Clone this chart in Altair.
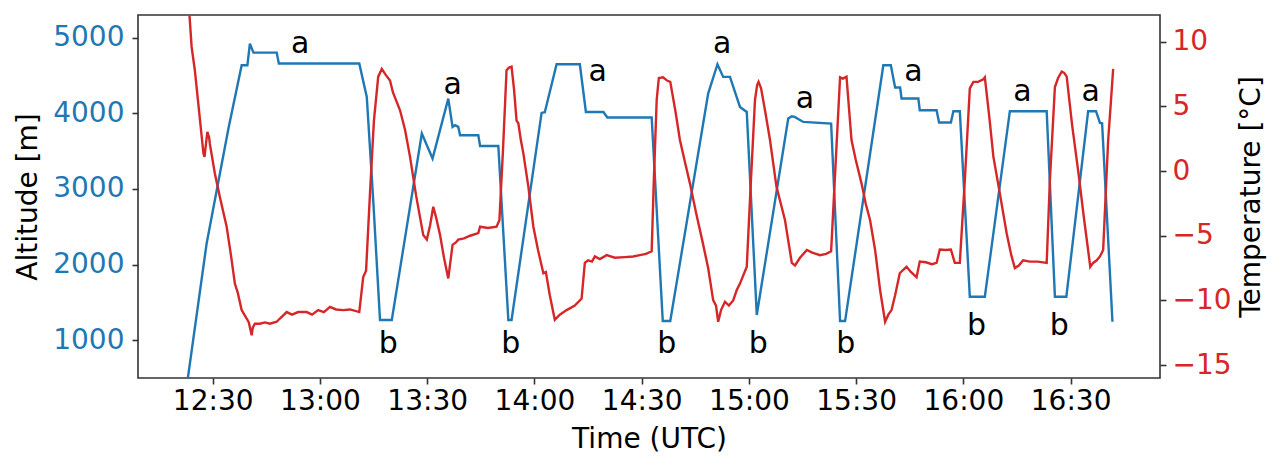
import altair as alt
import pandas as pd

# minutes after 12:00 UTC
alt_time = [23.0, 28.3, 34.4, 38.1, 39.7, 40.4, 41.4, 47.9, 48.5, 71.0, 73.1, 74.9, 76.8,
            80.1, 88.5, 91.5, 95.9, 97.1, 97.8, 98.7, 99.2, 104.3, 104.8, 109.9, 112.7,
            113.6, 122.0, 122.9, 126.2, 132.7, 134.4, 139.3, 140.4, 152.8, 155.9, 158.0,
            168.6, 171.2, 172.8, 174.7, 177.5, 179.4, 182.2, 191.0, 192.0, 192.8, 195.2,
            203.0, 205.5, 206.9, 217.6, 219.7, 220.9, 222.3, 222.7, 227.4, 227.8, 232.5,
            233.2, 236.5, 237.2, 239.0, 241.8, 246.0, 253.0, 263.3, 265.6, 268.8, 274.9,
            277.1, 278.2, 278.8, 281.7]
alt_values = [480, 2279, 3801, 4638, 4638, 4925, 4806, 4806, 4661, 4661, 4219, 2852, 1265,
              1265, 3735, 3404, 4197, 3822, 3844, 3822, 3712, 3712, 3570, 3570, 1265,
              1265, 4007, 4016, 4652, 4652, 4020, 4020, 3946, 3946, 1251, 1251,
              4264, 4652, 4484, 4484, 4087, 4020, 1331, 3933, 3963, 3954, 3888,
              3867, 1251, 1251, 4638, 4638, 4343, 4343, 4198, 4198, 4043, 4043,
              3880, 3880, 4030, 4030, 1573, 1573, 4030, 4030, 1573, 1573, 4030,
              4030, 3875, 3870, 1242]

temp_time = [23.0, 23.5, 24.1, 25.0, 26.2, 27.4, 27.7, 28.5, 29.0, 29.2, 30.6, 32.0, 33.9,
             35.1, 36.2, 37.0, 38.1, 39.5, 40.1, 40.9, 41.2, 41.8, 43.2, 44.6, 46.0, 47.9,
             48.8, 50.7, 52.2, 53.9, 56.3, 57.8, 59.5, 61.1, 62.8, 64.5, 66.5, 68.4, 71.0,
             72.1, 72.9, 74.0, 75.1, 76.3, 77.3, 78.5, 79.6, 80.4, 82.4, 83.8, 85.2, 86.9,
             88.9, 89.9, 90.8, 91.7, 92.5, 93.6, 94.7, 95.9, 97.1, 98.1, 98.7, 100.3, 102.0,
             104.3, 104.8, 107.0, 109.4, 110.2, 111.2, 112.2, 112.9, 113.6, 114.3, 115.0,
             115.5, 116.2, 116.9, 118.3, 119.7, 121.0, 122.5, 123.2, 124.3, 125.7, 127.1,
             129.0, 131.3, 133.2, 134.1, 135.0, 136.1, 136.9, 138.3, 140.2, 142.5, 145.3,
             147.6, 149.5, 151.2, 152.8, 153.4, 154.2, 154.8, 156.0, 157.1, 158.0, 159.4,
             160.7, 162.1, 163.5, 165.2, 166.9, 168.6, 170.0, 170.8, 171.4, 172.2, 173.3,
             174.4, 175.6, 176.6, 177.5, 179.4, 180.3, 181.7, 182.3, 182.7, 183.4, 184.5,
             185.9, 187.7, 189.0, 190.1, 190.9, 192.0, 192.9, 194.3, 196.2, 197.7, 199.9,
             201.6, 203.0, 204.5, 205.5, 206.3, 207.3, 208.7, 209.9, 211.5, 212.7, 213.9,
             215.3, 216.7, 218.1, 219.0, 219.9, 220.9, 222.2, 223.1, 224.1, 225.3, 226.9,
             227.8, 229.5, 231.2, 232.5, 233.4, 235.1, 236.5, 237.6, 239.0, 240.4, 241.8,
             242.8, 244.1, 245.6, 246.0, 247.2, 248.4, 250.3, 252.1, 253.4, 254.4, 255.5,
             256.7, 258.6, 260.9, 263.3, 264.2, 265.6, 266.5, 267.5, 268.2, 268.9, 270.4,
             272.2, 273.8, 275.5, 276.3, 277.3, 278.2, 279.1, 280.5, 281.3, 281.9]
temp_values = [13.0, 12.06, 9.6, 7.8, 4.6, 1.37, 1.1, 3.04, 2.6, 2.1, -0.18, -2.0, -4.3,
               -6.5, -8.7, -9.4, -10.75, -11.4, -11.7, -12.7, -12.1, -11.8, -11.8, -11.7,
               -11.8, -11.65, -11.4, -10.9, -11.1, -10.9, -10.9, -11.1, -10.75, -10.9, -10.5,
               -10.7, -10.75, -10.7, -10.9, -8.2, -7.7, -1.7, 3.9, 7.3, 7.9, 7.4, 7.0, 6.1,
               4.7, 3.2, 1.1, -1.9, -4.95, -5.3, -4.2, -2.76, -3.6, -4.95, -6.7, -8.3, -5.7,
               -5.5, -5.3, -5.2, -5.0, -4.8, -4.3, -4.4, -4.3, -3.8, 1.6, 7.8, 8.0, 8.07,
               6.3, 3.9, 3.7, 2.4, 1.37, -1.2, -4.3, -6.1, -7.9, -7.8, -9.6, -11.5, -11.1,
               -10.75, -10.4, -9.85, -7.1, -6.9, -7.0, -6.6, -6.8, -6.5, -6.7, -6.65, -6.6,
               -6.5, -6.4, -6.2, -0.7, 5.5, 7.2, 7.25, 7.0, 6.9, 4.7, 2.4, 0.7, -0.95, -3.2,
               -5.3, -7.5, -9.98, -10.4, -11.65, -10.75, -10.1, -10.4, -10.0, -9.2, -8.7,
               -7.4, -2.2, 5.5, 6.65, 6.9, 6.4, 4.7, 2.4, -1.2, -2.6, -3.8, -5.2, -7.1, -7.3,
               -6.7, -6.1, -6.3, -6.5, -6.4, -6.2, 1.9, 7.25, 7.15, 7.3, 2.4, 0.85, -0.95,
               -2.55, -3.8, -6.1, -9.2, -11.65, -11.1, -10.75, -9.6, -7.9, -7.65, -7.4, -7.8,
               -8.2, -7.0, -7.05, -7.2, -7.1, -6.06, -6.1, -6.06, -7.1, -7.1, -0.7, 6.4, 6.9,
               6.9, 7.1, 7.25, 4.3, 1.1, -1.9, -4.8, -6.5, -7.5, -7.3, -6.9, -7.0, -7.0, -7.1,
               -0.7, 6.5, 7.2, 7.7, 7.6, 7.3, 3.6, -0.18, -3.8, -7.4, -7.1, -6.9, -6.6, -6.1,
               2.4, 5.5, 7.9]

label_text = ["a", "a", "a", "a", "a", "a", "a", "a", "b", "b", "b", "b", "b", "b", "b"]
label_time = [54.5, 97.1, 137.7, 172.5, 195.7, 226.0, 256.5, 275.6,
              79.1, 113.4, 157.0, 182.6, 207.1, 243.7, 266.8]
label_alt = [4804, 4255, 4433, 4804, 4069, 4433, 4169, 4169,
             824, 824, 824, 824, 824, 1066, 1066]

x_ticks = [30, 60, 90, 120, 150, 180, 210, 240, 270]
alt_ticks = [1000, 2000, 3000, 4000, 5000]
temp_ticks = [-15, -10, -5, 0, 5, 10]
x_domain = [9.1, 295.0]
alt_domain = [497, 5304]
temp_domain = [-16.0, 12.07]

BLUE = "#1f77b4"
RED = "#d62728"
FONT = "DejaVu Sans"

df_alt = pd.DataFrame({"t": alt_time, "alt": alt_values})
df_temp = pd.DataFrame({"t": temp_time, "temp": temp_values})
df_lab = pd.DataFrame({"t": label_time, "alt": label_alt, "txt": label_text})

label_expr = ("floor(datum.value/60)+12 + ':' + "
              "(datum.value%60 < 10 ? '0' : '') + (datum.value%60)")

x_enc = alt.X("t:Q", scale=alt.Scale(domain=x_domain, nice=False, zero=False),
              axis=alt.Axis(values=x_ticks, labelExpr=label_expr, title="Time (UTC)",
                            grid=False, domain=False, tickSize=6, tickWidth=1.6,
                            tickColor="#333", labelFontSize=28, titleFontSize=28,
                            labelFont=FONT, titleFont=FONT, labelColor="black",
                            titleColor="black", titleFontWeight="normal",
                            labelPadding=3, titlePadding=10, labelFlush=False))

alt_scale = alt.Scale(domain=alt_domain, nice=False, zero=False)

line_alt = alt.Chart(df_alt).mark_line(color=BLUE, strokeWidth=2.4, clip=True).encode(
    x=x_enc,
    y=alt.Y("alt:Q", scale=alt_scale,
            axis=alt.Axis(orient="left", values=alt_ticks, format="d",
                          title="Altitude [m]", grid=False, domain=False, tickSize=6,
                          tickWidth=1.6, tickColor="#333", labelFontSize=28,
                          titleFontSize=28, labelFont=FONT, titleFont=FONT,
                          labelColor=BLUE, titleColor="black", titleFontWeight="normal",
                          labelPadding=8, titlePadding=10)),
)

text_lab = alt.Chart(df_lab).mark_text(font=FONT, fontSize=30, baseline="alphabetic",
                                       align="center", color="black").encode(
    x=alt.X("t:Q"),
    y=alt.Y("alt:Q", scale=alt_scale),
    text="txt:N",
)

line_temp = alt.Chart(df_temp).mark_line(color=RED, strokeWidth=2.4, clip=True).encode(
    x=alt.X("t:Q"),
    y=alt.Y("temp:Q", scale=alt.Scale(domain=temp_domain, nice=False, zero=False),
            axis=alt.Axis(orient="right", values=temp_ticks,
                          title="Temperature [°C]", grid=False, domain=False, tickSize=6,
                          tickWidth=1.6, tickColor="#333", labelFontSize=28,
                          titleFontSize=28, labelFont=FONT, titleFont=FONT,
                          labelColor=RED, titleColor="black", titleFontWeight="normal",
                          titleAngle=270, titleBaseline="top",
                          labelPadding=6, titlePadding=6)),
)

chart = alt.layer(alt.layer(line_alt, text_lab), line_temp).resolve_scale(
    y="independent"
).properties(
    width=1022, height=363,
    autosize=alt.AutoSizeParams(type="none"),
    padding={"left": 130, "top": 7, "right": 115, "bottom": 82},
    background="white",
).configure_view(stroke="#333", strokeWidth=1.6)

chart.save("out.html", embed_options={"renderer": "svg", "actions": False})
